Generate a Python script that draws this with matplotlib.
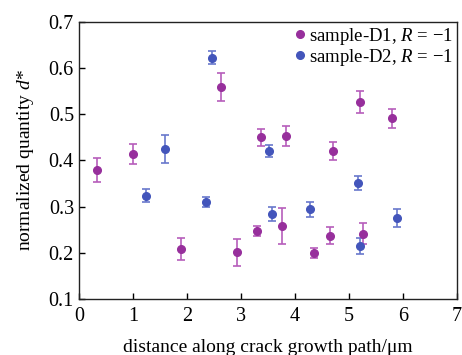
import numpy as np
import matplotlib.pyplot as plt

plt.rcParams['font.family'] = ['Liberation Serif', 'DejaVu Serif']
plt.rcParams['mathtext.fontset'] = 'custom'
plt.rcParams['mathtext.it'] = 'Liberation Serif:italic'
plt.rcParams['mathtext.rm'] = 'Liberation Serif'

# 01 - data
x_d1 = [0.33, 1.00, 1.88, 2.62, 2.92, 3.29, 3.37, 3.76, 3.84, 4.36, 4.65, 4.70, 5.20, 5.27, 5.80]
y_d1 = [0.380, 0.414, 0.208, 0.559, 0.201, 0.248, 0.450, 0.258, 0.453, 0.199, 0.237, 0.421, 0.527, 0.241, 0.491]
e_d1 = [0.026, 0.022, 0.023, 0.030, 0.029, 0.011, 0.018, 0.040, 0.021, 0.011, 0.019, 0.019, 0.024, 0.023, 0.021]

x_d2 = [1.23, 1.59, 2.34, 2.46, 3.52, 3.57, 4.27, 5.16, 5.21, 5.89]
y_d2 = [0.324, 0.425, 0.310, 0.623, 0.421, 0.284, 0.294, 0.351, 0.214, 0.275]
e_d2 = [0.015, 0.031, 0.011, 0.014, 0.013, 0.015, 0.016, 0.016, 0.017, 0.019]

labels = ['sample-D1, $R$ = \u22121', 'sample-D2, $R$ = \u22121']
x_ticks = [0, 1, 2, 3, 4, 5, 6, 7]
y_ticks = [0.1, 0.2, 0.3, 0.4, 0.5, 0.6, 0.7]

c_d1, ec_d1 = '#972f9c', '#b65dbb'
c_d2, ec_d2 = '#4355bb', '#6878cc'

# 02 - figure
fig = plt.figure(figsize=(4.62, 3.55), dpi=100)
ax = fig.add_axes([0.172, 0.158, 0.8166, 0.78])

ax.errorbar(x_d1, y_d1, yerr=e_d1, fmt='o', color=c_d1, ecolor=ec_d1, ms=5.5,
            elinewidth=1.2, capsize=3, capthick=1.2, label=labels[0])
ax.errorbar(x_d2, y_d2, yerr=e_d2, fmt='o', color=c_d2, ecolor=ec_d2, ms=5.5,
            elinewidth=1.2, capsize=3, capthick=1.2, label=labels[1])

ax.set_xlim(0, 7)
ax.set_ylim(0.1, 0.7)
ax.set_xticks(x_ticks)
ax.set_yticks(y_ticks)
ax.set_yticklabels([f'{v:.1f}' for v in y_ticks])
ax.tick_params(direction='in', length=4, width=1, labelsize=14.5, colors='black')
ax.tick_params(axis='x', pad=6)
ax.tick_params(axis='y', pad=4)
for s in ax.spines.values():
    s.set_linewidth(1)
    s.set_color('#222222')

ax.set_xlabel('distance along crack growth path/\u03bcm', fontsize=14, labelpad=9)
ax.set_ylabel('normalized quantity $d$*', fontsize=14, labelpad=9)

handles, lbls = ax.get_legend_handles_labels()
handles = [h[0] for h in handles]
ax.legend(handles, lbls, loc='upper right', frameon=False, fontsize=13.5,
          handletextpad=0.0, handlelength=1.0, labelspacing=0.0,
          borderaxespad=0.15, borderpad=0.05)

fig.savefig('out.png', dpi=100)
